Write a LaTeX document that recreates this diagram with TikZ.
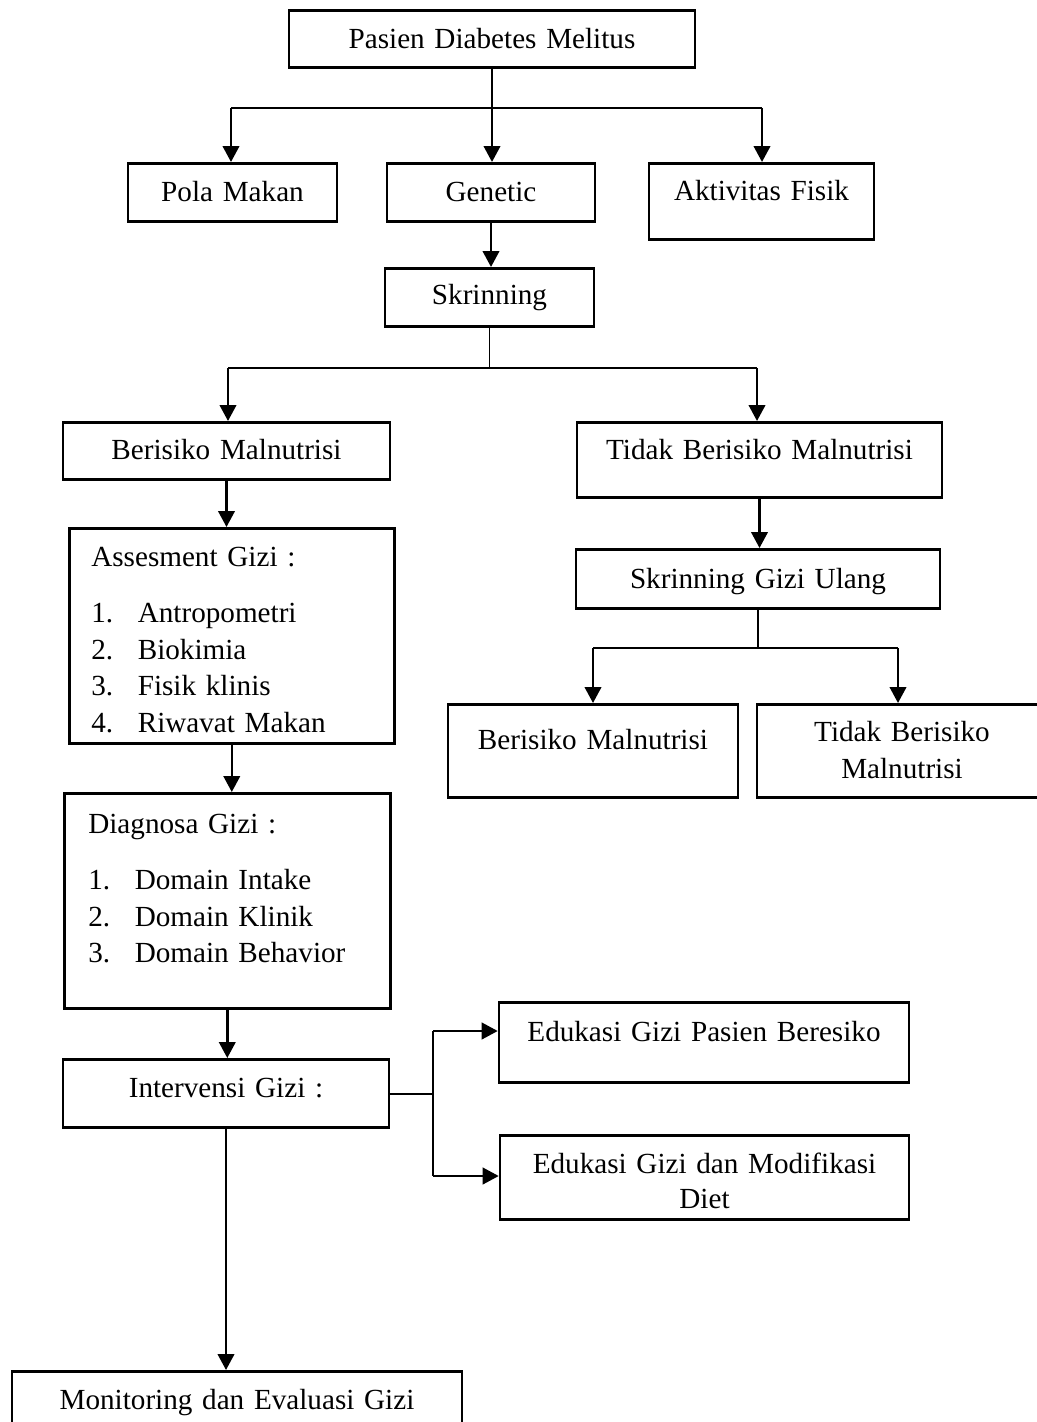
\documentclass[tikz,border=0pt]{standalone}
\usepackage{fontspec}
\setmainfont{Liberation Serif}
\usetikzlibrary{arrows.meta}
\newcommand{\boxfont}{\fontsize{16.6}{20.9}\selectfont}
\newcommand{\nitem}[2]{\makebox[0.93cm][l]{#1}#2}
\tikzset{
  box/.style={draw, line width=1.5pt, align=center, inner xsep=0pt, inner ysep=0pt, font=\boxfont},
  listbox/.style={box, align=left, anchor=north west},
  arr/.style={-{Triangle[length=3.2mm, width=3.3mm]}, line width=1.4pt},
  thin/.style={line width=0.7pt}
}

\begin{document}
\begin{tikzpicture}[x=0.02cm, y=-0.02cm]
\useasboundingbox (0,0) rectangle (1036,1422);
% faktor risiko
\node[box, anchor=north, text width=8.12cm, text height=0.76cm, text depth=0.38cm] (pasien) at (492,9) {Pasien Diabetes Melitus};
\node[box, anchor=north, text width=4.18cm, text height=0.76cm, text depth=0.40cm] (pola) at (232.5,162) {Pola Makan};
\node[box, anchor=north, text width=4.16cm, text height=0.76cm, text depth=0.40cm] (genetic) at (491,162) {Genetic};
\node[box, anchor=north, text width=4.5cm, text height=0.74cm, text depth=0.78cm] (aktiv) at (761.5,162) {Aktivitas Fisik};
\node[box, anchor=north, text width=4.18cm, text height=0.72cm, text depth=0.44cm] (skrin) at (489.5,267) {Skrinning};
% hasil skrinning
\node[box, anchor=north, text width=6.54cm, text height=0.74cm, text depth=0.40cm] (beris) at (226.5,421) {Berisiko Malnutrisi};
\node[box, anchor=north, text width=7.3cm, text height=0.74cm, text depth=0.76cm] (tidak) at (759.5,421) {Tidak Berisiko Malnutrisi};
\node[listbox, inner xsep=0.44cm, text width=5.62cm, text height=0.76cm, text depth=3.54cm] (assess) at (68,527)
  {Assesment Gizi :\\[11pt]
   \nitem{1.}{Antropometri}\\
   \nitem{2.}{Biokimia}\\
   \nitem{3.}{Fisik klinis}\\
   \nitem{4.}{Riwavat Makan}};
\node[box, anchor=north, text width=7.28cm, text height=0.78cm, text depth=0.40cm] (ulang) at (758,548) {Skrinning Gizi Ulang};
\node[box, anchor=north, text width=5.8cm, text height=0.9cm, text depth=0.96cm] (berisR) at (593,703) {Berisiko Malnutrisi};
\node[box, anchor=north, text width=5.8cm, text height=0.74cm, text depth=1.12cm] (tidakR) at (902,703) {Tidak Berisiko\\Malnutrisi};
% proses asuhan gizi
\node[listbox, inner xsep=0.48cm, text width=5.56cm, text height=0.8cm, text depth=3.5cm] (diag) at (63,792)
  {Diagnosa Gizi :\\[11pt]
   \nitem{1.}{Domain Intake}\\
   \nitem{2.}{Domain Klinik}\\
   \nitem{3.}{Domain Behavior}};
\node[box, anchor=north, text width=6.52cm, text height=0.76cm, text depth=0.6cm] (interv) at (226,1058) {Intervensi Gizi :};
\node[box, anchor=north, text width=8.2cm, text height=0.78cm, text depth=0.82cm] (edu1) at (704,1001) {Edukasi Gizi Pasien Beresiko};
\node[box, anchor=north, text width=8.18cm, text height=0.76cm, text depth=0.92cm] (edu2) at (704.5,1134) {Edukasi Gizi dan Modifikasi\\[-1.1pt]Diet};
\node[box, anchor=north, text width=9.0cm, text height=0.76cm, text depth=0.84cm] (monitor) at (237,1370) {Monitoring dan Evaluasi Gizi};

% cabang pertama
\coordinate (c1) at (pasien.south |- 0,108);
\coordinate (l1) at (231,108);
\coordinate (r1) at (762,108);
\draw[thin] (pasien.south) -- (c1);
\draw[thin] (l1) -- (r1);
\draw[arr] (l1) -- (l1 |- pola.north);
\draw[arr] (c1) -- (c1 |- genetic.north);
\draw[arr] (r1) -- (r1 |- aktiv.north);
\draw[arr] (genetic.south) -- (genetic.south |- skrin.north);
% cabang skrinning
\coordinate (c2) at (skrin.south |- 0,368);
\coordinate (l2) at (228,368);
\coordinate (r2) at (757,368);
\draw[thin] (skrin.south) -- (c2);
\draw[thin] (l2) -- (r2);
\draw[arr] (l2) -- (l2 |- beris.north);
\draw[arr] (r2) -- (r2 |- tidak.north);
\draw[arr] (beris.south) -- (beris.south |- assess.north);
\draw[arr] (tidak.south) -- (tidak.south |- ulang.north);
% skrinning ulang
\coordinate (c3) at (ulang.south |- 0,648);
\coordinate (l3) at (593,648);
\coordinate (r3) at (898,648);
\draw[thin] (ulang.south) -- (c3);
\draw[thin] (l3) -- (r3);
\draw[arr] (l3) -- (l3 |- berisR.north);
\draw[arr] (r3) -- (r3 |- tidakR.north);
% alur asuhan
\draw[arr] (assess.south) -- (assess.south |- diag.north);
\draw[arr] (diag.south) -- (diag.south |- interv.north);
\coordinate (c4) at (433,1094);
\coordinate (t4) at (433,1031);
\coordinate (b4) at (433,1176);
\draw[thin] (interv.east |- c4) -- (c4);
\draw[thin] (t4) -- (b4);
\draw[arr] (t4) -- (t4 -| edu1.west);
\draw[arr] (b4) -- (b4 -| edu2.west);
\draw[arr] (interv.south) -- (interv.south |- monitor.north);
\end{tikzpicture}
\end{document}
